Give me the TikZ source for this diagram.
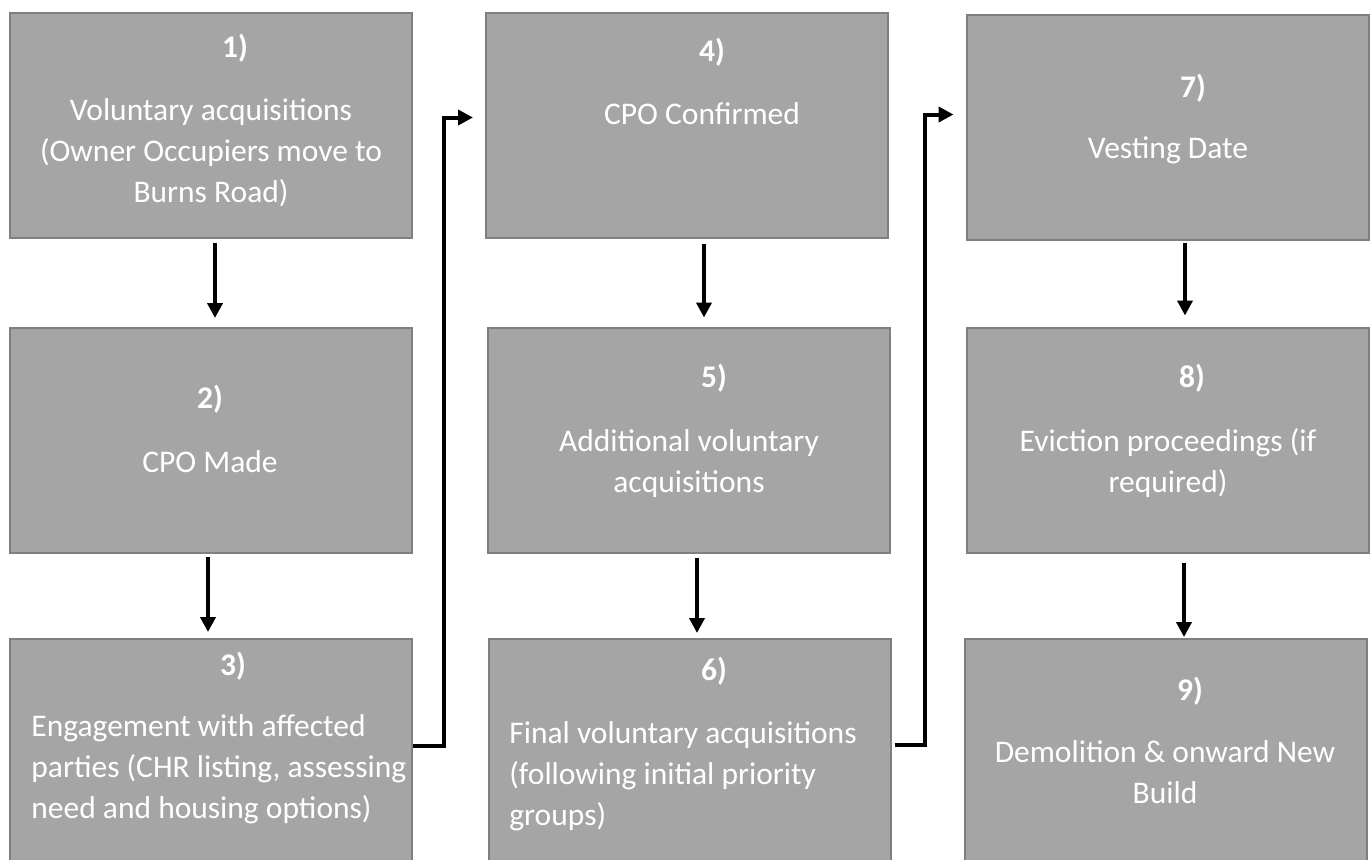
\documentclass[tikz,border=0pt]{standalone}
\usepackage{fontspec}
\setmainfont{Carlito}
\usepackage{tikz}
\usetikzlibrary{arrows.meta}

\definecolor{boxfill}{HTML}{A5A5A5}
\definecolor{boxline}{HTML}{7F7F7F}

\begin{document}
\begin{tikzpicture}[x=0.5pt,y=-0.5pt,
    box/.style={draw=boxline,fill=boxfill,line width=1pt,inner sep=0pt,
        minimum width=201pt,minimum height=112.5pt},
    num/.style={anchor=base,text=white,font=\fontsize{15.75}{20.5}\selectfont\bfseries},
    txt/.style={anchor=base,text=white,align=center,inner sep=0pt,
        font=\fontsize{15.75}{20.5}\selectfont},
    arr/.style={line width=2pt,-{Triangle[length=7.5pt,width=7.5pt]}}]
    \useasboundingbox (0,0) rectangle (1371,859);
    \clip (0,0) rectangle (1371,859);

    % first column (text nodes sit on the baseline of their last line)
    \node[box] (b1) at (211,125.5) {};
        \node[num] (n1) at (235,57) {1)};
        \node[txt] (t1) at (211,202) {Voluntary acquisitions\\(Owner Occupiers move to\\Burns Road)};
    \node[box] (b2) at (211,440.5) {};
        \node[num] (n2) at (210,408) {2)};
        \node[txt] (t2) at (210,472) {CPO Made};
    \node[box] (b3) at (211,751.5) {};
        \node[num] (n3) at (233,675) {3)};
        \node[txt,anchor=base west,align=left] (t3) at (31,818) {Engagement with affected\\parties (CHR listing, assessing\\need and housing options)};

    % second column
    \node[box] (b4) at (687,125) {};
        \node[num] (n4) at (712,61) {4)};
        \node[txt] (t4) at (702,124) {CPO Confirmed};
    \node[box] (b5) at (689,440) {};
        \node[num] (n5) at (714,387) {5)};
        \node[txt] (t5) at (689,492) {Additional voluntary\\acquisitions};
    \node[box] (b6) at (689.5,751.5) {};
        \node[num] (n6) at (714,680) {6)};
        \node[txt,anchor=base west,align=left] (t6) at (509,825) {Final voluntary acquisitions\\(following initial priority\\groups)};

    % third column
    \node[box] (b7) at (1167.5,127.5) {};
        \node[num] (n7) at (1193,97) {7)};
        \node[txt] (t7) at (1168,158) {Vesting Date};
    \node[box] (b8) at (1167.5,440) {};
        \node[num] (n8) at (1192,387) {8)};
        \node[txt] (t8) at (1168,492) {Eviction proceedings (if\\required)};
    \node[box] (b9) at (1165.5,751.5) {};
        \node[num] (n9) at (1190,700) {9)};
        \node[txt] (t9) at (1165,803) {Demolition \& onward New\\Build};

    % arrows down the columns
    \draw[arr] ([shift={(4,4)}]b1.south) -- ([shift={(4,-9)}]b2.north);
    \draw[arr] ([shift={(-3,3)}]b2.south) -- ([shift={(-3,-6)}]b3.north);
    \draw[arr] ([shift={(17,5)}]b4.south) -- ([shift={(15,-9)}]b5.north);
    \draw[arr] ([shift={(8,4)}]b5.south) -- ([shift={(7.5,-5)}]b6.north);
    \draw[arr] ([shift={(17.5,2)}]b7.south) -- ([shift={(17.5,-11)}]b8.north);
    \draw[arr] ([shift={(16.5,9)}]b8.south) -- ([shift={(18.5,-1)}]b9.north);

    % arrows between columns
    \draw[arr] ([shift={(0,-5.5)}]b3.east) -- ++(31,0) |- ([shift={(-12,-7.5)}]b4.west);
    \draw[arr] ([shift={(3,-6.5)}]b6.east) -- ++(30,0) |- ([shift={(-12,-13)}]b7.west);
\end{tikzpicture}
\end{document}
